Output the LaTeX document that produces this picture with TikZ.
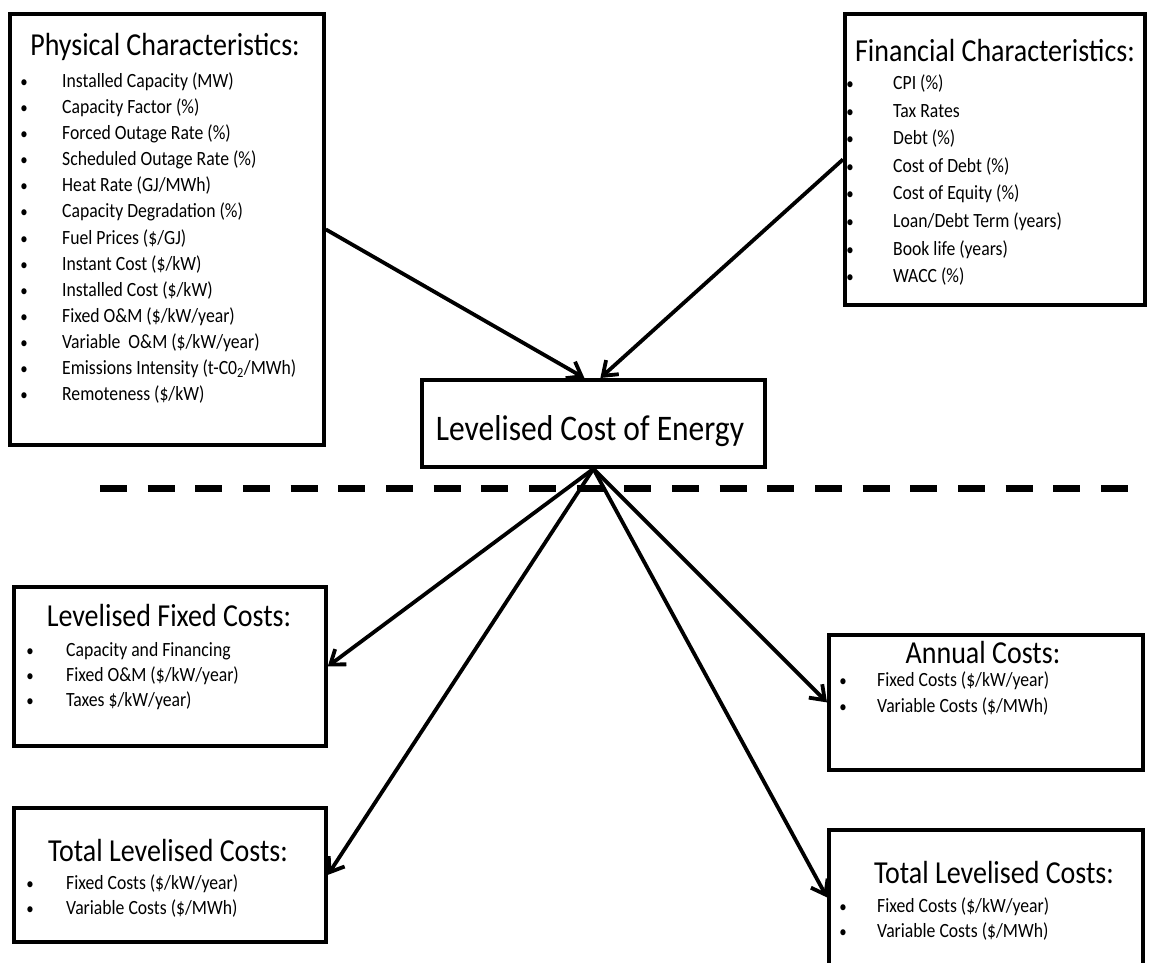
\documentclass[tikz,border=0pt]{standalone}
\usepackage{fontspec}
\setmainfont{Carlito}[FakeStretch=0.875]
\usetikzlibrary{arrows.meta}
\begin{document}
\begin{tikzpicture}[x=1pt,y=-1pt,
  box/.style={draw, line width=3.8pt, anchor=north west, inner sep=0pt},
  ttl/.style={anchor=base, inner sep=0pt, font=\fontsize{32}{34}\selectfont},
  itm/.style={anchor=base west, inner sep=0pt, font=\fontsize{20.2}{22}\selectfont},
  bul/.style={anchor=base, inner sep=0pt, font=\fontsize{17}{20}\selectfont},
  arr/.style={line width=3.8pt, -{Straight Barb[length=13pt,width=19pt]}},
  sep/.style={line width=7pt, dash pattern=on 27pt off 20.67pt}]
\useasboundingbox (0,0) rectangle (1149,963);
\clip (0,0) rectangle (1149,963);

% Physical characteristics
\node[box, minimum width=314pt, minimum height=431pt] (phys) at (8,12) {};
\node[ttl] (physT) at (165,56) {Physical Characteristics:};
\foreach \t [count=\i from 0] in {Installed Capacity (MW), Capacity Factor (\%), Forced Outage Rate (\%), Scheduled Outage Rate (\%), Heat Rate (GJ/MWh), Capacity Degradation (\%), Fuel Prices (\$/GJ), Instant Cost (\$/kW), Installed Cost (\$/kW), Fixed O\&M (\$/kW/year), Variable\ \ O\&M (\$/kW/year), Emissions Intensity (t-C0\textsubscript{2}/MWh), Remoteness (\$/kW)} {
  \node[bul] (pb\i) at (24,{88+26*\i}) {•};
  \node[itm] (pi\i) at (62,{88+26*\i}) {\t};
}

% Financial characteristics
\node[box, minimum width=300pt, minimum height=291pt] (fin) at (843,12) {};
\node[ttl] (finT) at (995,62) {Financial Characteristics:};
\foreach \t [count=\i from 0] in {CPI (\%), Tax Rates, Debt (\%), Cost of Debt (\%), Cost of Equity (\%), Loan/Debt Term (years), Book life (years), WACC (\%)} {
  \node[bul] (fb\i) at (850,{90+27.5*\i}) {•};
  \node[itm] (fi\i) at (893,{90+27.5*\i}) {\t};
}

% LCOE
\node[box, minimum width=343pt, minimum height=87pt] (lcoe) at (420,378) {};
\node[anchor=base, inner sep=0pt, font=\fontsize{36}{38}\selectfont] (lcoeT) at (590,440) {Levelised Cost of Energy};

% Levelised fixed costs
\node[box, minimum width=312pt, minimum height=159pt] (fixed) at (12,585) {};
\node[ttl] (fixedT) at (169,626) {Levelised Fixed Costs:};
\foreach \t [count=\i from 0] in {Capacity and Financing, Fixed O\&M (\$/kW/year), Taxes \$/kW/year)} {
  \node[bul] (xb\i) at (30,{656+25*\i}) {•};
  \node[itm] (xi\i) at (66,{656+25*\i}) {\t};
}

% Total levelised costs (left)
\node[box, minimum width=312pt, minimum height=134pt] (totL) at (12,806) {};
\node[ttl] (totLT) at (168,861) {Total Levelised Costs:};
\foreach \t [count=\i from 0] in {Fixed Costs (\$/kW/year), Variable Costs (\$/MWh)} {
  \node[bul] (lb\i) at (30,{889+25*\i}) {•};
  \node[itm] (li\i) at (66,{889+25*\i}) {\t};
}

% Annual costs
\node[box, minimum width=314pt, minimum height=135pt] (annual) at (827,633) {};
\node[ttl] (annualT) at (983,663) {Annual Costs:};
\foreach \t [count=\i from 0] in {Fixed Costs (\$/kW/year), Variable Costs (\$/MWh)} {
  \node[bul] (ab\i) at (843,{686+26*\i}) {•};
  \node[itm] (ai\i) at (877,{686+26*\i}) {\t};
}

% Total levelised costs (right)
\node[box, minimum width=314pt, minimum height=135pt] (totR) at (827,828) {};
\node[ttl] (totRT) at (994,883) {Total Levelised Costs:};
\foreach \t [count=\i from 0] in {Fixed Costs (\$/kW/year), Variable Costs (\$/MWh)} {
  \node[bul] (rb\i) at (843,{912+25*\i}) {•};
  \node[itm] (ri\i) at (877,{912+25*\i}) {\t};
}

% separator
\coordinate (sepL) at (100,488);
\coordinate (sepR) at (1128,488);
\draw[sep] (sepL) -- (sepR);

% connectors
\draw[arr] (phys.east) -- ([xshift=-9pt]lcoe.north);
\draw[arr] (fin.west) -- ([xshift=7pt]lcoe.north);
\draw[arr] (lcoe.south) -- (fixed.east);
\draw[arr] (lcoe.south) -- (totL.east);
\draw[arr] (lcoe.south) -- (annual.west);
\draw[arr] (lcoe.south) -- (totR.west);
\end{tikzpicture}
\end{document}
